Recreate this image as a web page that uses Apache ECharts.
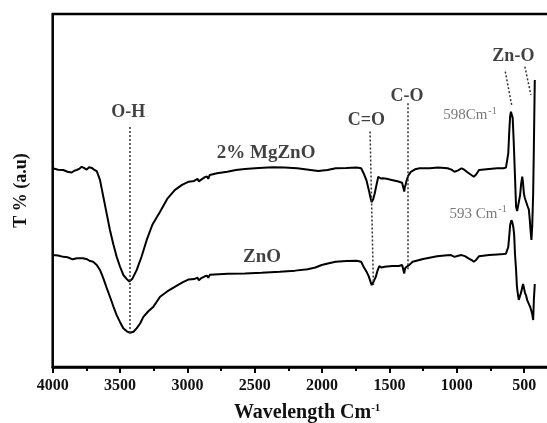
<!DOCTYPE html>
<html>
<head>
<meta charset="utf-8">
<script src="https://cdn.jsdelivr.net/npm/echarts@6/dist/echarts.min.js"></script>
<style>html,body{margin:0;padding:0;background:#fff}#c{width:547px;height:423px}</style>
</head>
<body>
<div id="c"></div>
<script>
// 2% MgZnO spectrum (wavenumber, transmittance a.u.)
const mgWn = [4000,3960,3921,3890,3859,3840,3822,3800,3785,3768,3748,3730,3710,3690,3673,3649,3624,3600,3575,3550,3525,3500,3476,3450,3431,3410,3376,3340,3302,3260,3203,3150,3094,3040,2990,2950,2925,2915,2900,2870,2855,2845,2834,2780,2704,2640,2574,2470,2367,2280,2185,2100,2029,1960,1899,1820,1744,1710,1692,1670,1653,1640,1632,1620,1609,1595,1583,1565,1549,1520,1484,1440,1406,1395,1390,1386,1380,1375,1360,1341,1310,1276,1200,1140,1068,1040,1017,990,965,945,926,900,874,855,835,760,700,653,635,627,618,610,604,598,590,585,577,568,560,552,545,538,530,522,514,508,502,496,490,482,473,465,458,452,446,440,433,428,421];
const mgT  = [56.3,55.9,55.8,55.3,55.1,55.6,55.8,56.2,56.7,56.4,55.9,56.6,56.4,55.8,55.5,53.0,48.2,43.6,38.8,34.8,31.2,28.4,26.1,24.9,24.2,24.9,27.5,31.3,36.0,40.3,44.0,47.6,50.1,51.6,52.5,52.7,53.3,52.6,53.0,53.8,54.0,53.3,54.4,54.9,55.3,55.8,56.1,56.4,56.6,56.5,56.3,55.9,55.5,55.8,56.3,56.4,56.5,56.3,54.9,52.8,50.1,47.8,46.7,47.6,49.2,51.8,53.9,53.4,53.5,53.3,53.0,52.6,52.2,51.9,49.7,51.0,51.6,52.5,54.2,55.3,56.0,56.3,56.3,56.5,56.3,55.9,55.3,55.7,56.3,55.9,55.3,54.6,53.9,54.6,55.8,56.1,56.3,56.3,56.5,56.6,60.5,67.1,71.0,72.3,71.8,70.5,63.4,54.0,45.4,44.2,44.0,44.3,48.7,52.0,53.9,52.0,49.2,48.0,47.3,46.8,45.4,44.6,41.6,38.5,36.0,40.0,49.2,62.0,81.3];
// ZnO spectrum (wavenumber, transmittance a.u.)
const znWn = [4000,3960,3921,3890,3852,3820,3777,3750,3727,3700,3673,3649,3624,3600,3575,3550,3525,3500,3476,3450,3426,3400,3376,3350,3327,3290,3252,3203,3150,3094,3040,2990,2950,2925,2915,2900,2870,2855,2845,2834,2700,2574,2450,2315,2200,2107,2050,2003,1950,1899,1820,1744,1710,1692,1670,1653,1640,1632,1620,1601,1588,1575,1560,1536,1480,1430,1406,1395,1390,1386,1380,1367,1350,1328,1250,1146,1090,1043,1017,990,965,940,913,890,874,855,835,760,700,653,635,627,618,610,604,595,588,580,574,568,560,554,548,540,530,522,514,508,502,494,485,478,470,462,455,448,440,433,428,421];
const znT  = [31.7,31.6,31.2,31.1,30.5,30.8,30.8,30.6,30.1,29.8,28.9,27.5,25.1,22.5,19.9,17.2,14.7,12.7,11.0,10.1,9.7,10.0,11.0,12.4,14.2,15.8,17.1,19.9,21.4,22.7,23.9,24.8,24.9,25.3,24.6,25.1,25.7,25.9,25.3,26.1,26.4,26.5,26.7,27.0,27.3,27.7,28.2,28.9,29.4,29.8,30.0,30.1,29.8,28.4,27.0,25.6,24.1,23.2,24.0,25.6,27.4,28.6,28.2,28.4,28.6,28.6,28.9,28.4,26.5,27.6,28.2,28.4,29.0,29.8,30.6,31.4,31.6,31.7,31.2,31.5,31.7,31.4,30.8,30.3,29.8,30.4,31.4,31.7,31.9,32.0,32.1,32.2,34.0,37.4,40.2,41.6,41.0,39.5,37.4,32.0,27.5,23.0,21.0,19.0,19.4,21.2,22.6,23.5,22.5,21.0,20.2,19.0,18.5,17.6,17.0,16.1,15.0,13.3,19.0,23.5,28.4];
// x-axis ticks
const xTicks = [4000,3500,3000,2500,2000,1500,1000,500];
// annotation texts
const bandLabels = [
  {text:'O-H', wn:3440, t:72.0},
  {text:'C=O', wn:1671, t:69.8},
  {text:'C-O', wn:1370, t:76.8},
  {text:'Zn-O', wn:580, t:88.1}
];
const sampleLabels = [
  {text:'2% MgZnO', wn:2416, t:60.7},
  {text:'ZnO', wn:2446, t:31.2}
];
const peakLabels = [
  {text:'598Cm', wn:704, t:71.3},
  {text:'593 Cm', wn:630, t:43.4}
];
const guideLines = [
  [[3426,68.0],[3426,9.6]],
  [[1644,66.7],[1619,23.2]],
  [[1366,74.7],[1366,27.5]],
  [[640,83.7],[592.6,74.2]],
  [[494.8,85.1],[450,77.1]]
];

const serif = '"Liberation Serif","Times New Roman",serif';
const chart = echarts.init(document.getElementById('c'), null, {renderer:'canvas'});
const zip = (a,b)=>a.map((v,i)=>[v,b[i]]);

const labelSeries = (items, style) => ({
  type:'scatter', symbolSize:0, silent:true, animation:false, z:5,
  data: items.map(d=>({value:[d.wn,d.t], name:d.text})),
  label:Object.assign({show:true, position:'inside', formatter:p=>p.name}, style)
});

chart.setOption({
  animation:false,
  grid:{left:52.7, right:-44.5, top:14, bottom:56, show:true, borderColor:'#000', borderWidth:2.5,
        containLabel:false, outerBoundsMode:'none'},
  xAxis:{
    type:'value', inverse:true, min:0, max:4000, interval:500,
    axisLine:{show:true, onZero:false, lineStyle:{color:'#000', width:2.5}},
    axisTick:{show:true, inside:false, length:6, lineStyle:{color:'#000', width:2}},
    minorTick:{show:true, splitNumber:2, length:4, lineStyle:{color:'#000', width:2}},
    splitLine:{show:false},
    axisLabel:{margin:11, color:'#111', fontFamily:serif, fontWeight:'bold', fontSize:16,
      formatter:v=>xTicks.includes(v)?String(v):''},
    name:'{a|Wavelength Cm}{s|-1}', nameLocation:'middle', nameGap:36,
    nameTextStyle:{padding:[0,30,0,0], rich:{
      a:{fontFamily:serif, fontWeight:'bold', fontSize:20, color:'#111'},
      s:{fontFamily:serif, fontWeight:'bold', fontSize:11, color:'#111', verticalAlign:'top'}
    }}
  },
  yAxis:{
    type:'value', min:0, max:100,
    axisLine:{show:true, lineStyle:{color:'#000', width:2.5}},
    axisTick:{show:false}, axisLabel:{show:false}, splitLine:{show:false},
    name:'T % (a.u)', nameLocation:'middle', nameGap:22, nameRotate:90,
    nameTextStyle:{fontFamily:serif, fontWeight:'bold', fontSize:18, color:'#111'}
  },
  series:[
    {type:'line', name:'2% MgZnO', data:zip(mgWn,mgT), showSymbol:false, smooth:false,
     lineStyle:{color:'#000', width:2}, z:3,
     markLine:{silent:true, symbol:'none', animation:false, label:{show:false},
       lineStyle:{color:'#333', type:[2,2], width:1.5},
       data: guideLines.map(l=>[{coord:l[0]},{coord:l[1]}])}},
    {type:'line', name:'ZnO', data:zip(znWn,znT), showSymbol:false, smooth:false,
     lineStyle:{color:'#000', width:2}, z:3},
    labelSeries(bandLabels, {fontFamily:serif, fontWeight:'bold', fontSize:18, color:'#111'}),
    labelSeries(sampleLabels, {fontFamily:serif, fontWeight:'bold', fontSize:19, color:'#111'}),
    labelSeries(peakLabels, {fontFamily:serif, fontSize:15, color:'#555', align:'right',
      formatter:p=>p.name+'{s|-1}',
      rich:{s:{fontFamily:serif, fontSize:10, color:'#555', verticalAlign:'top', padding:[0,0,8,1]}}})
  ]
});
</script>
</body>
</html>
